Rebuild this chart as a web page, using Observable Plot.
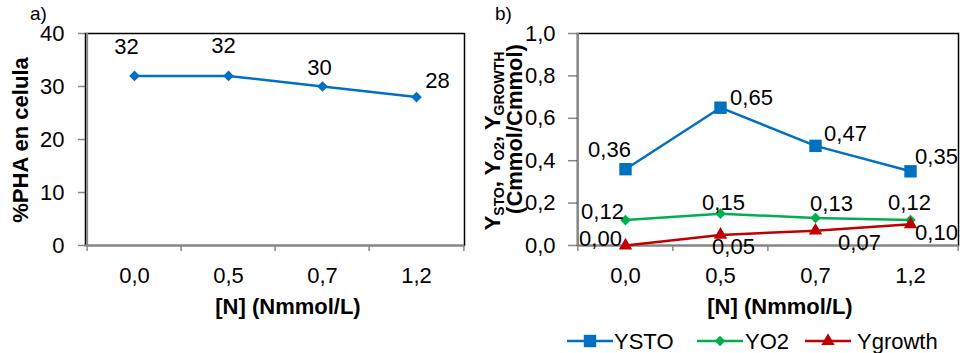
<!DOCTYPE html>
<html><head><meta charset="utf-8">
<script src="https://cdn.jsdelivr.net/npm/d3@7"></script>
<script src="https://cdn.jsdelivr.net/npm/@observablehq/plot@0.6"></script>
<style>
body{margin:0;background:#fff;}
#chart{position:relative;width:962px;height:353px;overflow:hidden;font-family:"Liberation Sans",Arial,sans-serif;background:#fff;}
#chart svg{position:absolute;top:0;}
#chart g[aria-label^="x-axis"] text,#chart g[aria-label^="y-axis"] text{font-size:22px;font-family:"Liberation Sans",Arial,sans-serif;fill:#000;}
</style></head><body><div id="chart"></div>
<script>
// ---- data ----
const categories = ["0,0", "0,5", "0,7", "1,2"];
const phaValues = [32, 32, 30, 28];
const phaTicks = [0, 10, 20, 30, 40];
const ystoValues = [0.36, 0.65, 0.47, 0.35];
const yo2Values = [0.12, 0.15, 0.13, 0.12];
const ygrowthValues = [0.00, 0.05, 0.07, 0.10];
const yieldTicks = [0, 0.2, 0.4, 0.6, 0.8, 1.0];
const seriesNames = ["YSTO", "YO2", "Ygrowth"];

// ---- styles (label offsets, colours, symbols) ----
const gray = "#878787";
const styleA = {color: "#0070C0", symbol: "diamond2", r: 4.8, offsets: [[-8,-29],[-5,-30],[-3,-19],[21,-16]]};
const stylesB = [
  {color: "#0070C0", symbol: "square", r: 7, offsets: [[-16,-19],[31,-10],[30,-12],[26,-14]]},
  {color: "#00B050", symbol: "diamond2", r: 4.8, offsets: [[-23,-8],[3,-11],[16,-14],[-1,-17]]},
  {color: "#C00000", symbol: "triangle", r: 5, offsets: [[-25,-7],[13,12],[44,12],[26,9]]}
];

function seriesMarks(values, st, fmt) {
  const rows = categories.map((c, i) => ({cat: c, v: values[i], i}));
  const marks = [
    Plot.line(rows, {x: "cat", y: "v", stroke: st.color, strokeWidth: 2.5}),
    Plot.dot(rows, {x: "cat", y: "v", fill: st.color, symbol: st.symbol, r: st.r})
  ];
  rows.forEach((d, i) => {
    marks.push(Plot.text([d], {x: "cat", y: "v", text: (e) => fmt(e.v), dx: st.offsets[i][0], dy: st.offsets[i][1],
      fontSize: 22, fill: "#000", fontFamily: "Liberation Sans, Arial, sans-serif"}));
  });
  return marks;
}

function panel({width, marginLeft, marginRight, yDomain, yTicks, yFormat, tickSize, tickPadding, series}) {
  const height = 353, marginTop = 33, marginBottom = 108;
  const step = (width - marginLeft - marginRight) / categories.length;
  const marks = [
    Plot.frame({stroke: "#000", strokeWidth: 1.5}),
    Plot.ruleY([0], {stroke: gray, strokeWidth: 2}),
    Plot.ruleX([categories[0]], {dx: -step / 2, stroke: gray, strokeWidth: 2}),
    Plot.ruleX(categories, {y1: 0, y2: 0, dx: -step / 2, insetBottom: -6, stroke: gray, strokeWidth: 1.5}),
    Plot.ruleX([categories[categories.length - 1]], {y1: 0, y2: 0, dx: step / 2, insetBottom: -6, stroke: gray, strokeWidth: 1.5}),
    ...series
  ];
  return Plot.plot({
    width, height, marginLeft, marginRight, marginTop, marginBottom,
    style: {fontFamily: "Liberation Sans, Arial, sans-serif", fontSize: "22px", color: "#000", background: "transparent", overflow: "visible"},
    x: {type: "point", domain: categories, padding: 0.5, tickSize: 0, tickPadding: 22, label: null},
    y: {domain: yDomain, ticks: yTicks, tickFormat: yFormat, tickSize, tickPadding, label: null},
    marks
  });
}

const chart = document.getElementById("chart");

const plotA = panel({
  width: 480, marginLeft: 85, marginRight: 16, yDomain: [0, 40], yTicks: phaTicks,
  yFormat: (d) => String(d), tickSize: 7, tickPadding: 14,
  series: seriesMarks(phaValues, styleA, (v) => String(v))
});
plotA.style.left = "0px";
chart.appendChild(plotA);

const fmt2 = (v) => v.toFixed(2).replace(".", ",");
const plotB = panel({
  width: 482, marginLeft: 97, marginRight: 4, yDomain: [0, 1], yTicks: yieldTicks,
  yFormat: (d) => d.toFixed(1).replace(".", ","), tickSize: 9, tickPadding: 13,
  series: [ystoValues, yo2Values, ygrowthValues].flatMap((vals, k) => seriesMarks(vals, stylesB[k], fmt2))
});
plotB.style.left = "480px";
chart.appendChild(plotB);

// gray tick marks on y axes, explicit axis font
[plotA, plotB].forEach((p) => {
  d3.select(p).selectAll('g[aria-label^="y-axis"] line, g[aria-label^="y-axis"] path').attr("stroke", gray).attr("stroke-width", 1.5);
  d3.select(p).selectAll('g[aria-label^="y-axis"] text, g[aria-label^="x-axis"] text').style("font-size", "22px");
});

function addText(sel, {x, y, transform, anchor = "start", size = 22, bold = false, text}) {
  const t = sel.append("text").attr("text-anchor", anchor).style("font-size", size + "px").attr("fill", "#000")
    .style("font-family", "Liberation Sans, Arial, sans-serif");
  if (transform) t.attr("transform", transform); else t.attr("x", x).attr("y", y);
  if (bold) t.attr("font-weight", "bold");
  if (text != null) t.text(text);
  return t;
}

// titles
const sA = d3.select(plotA);
addText(sA, {x: 30, y: 20, size: 19, text: "a)"});
addText(sA, {x: 288, y: 314, anchor: "middle", bold: true, text: "[N] (Nmmol/L)"});
addText(sA, {transform: "translate(28,140) rotate(-90)", anchor: "middle", bold: true, text: "%PHA en celula"});

const sB = d3.select(plotB);
addText(sB, {x: 15, y: 20, size: 19, text: "b)"});
addText(sB, {x: 300, y: 314, anchor: "middle", bold: true, text: "[N] (Nmmol/L)"});
const t1 = addText(sB, {transform: "translate(20,141) rotate(-90)", anchor: "middle", bold: true});
const parts = [["Y", false], ["STO", true], [", Y", false], ["O2", true], [", Y", false], ["GROWTH", true]];
let shifted = false;
parts.forEach(([txt, sub]) => {
  const ts = t1.append("tspan").text(txt);
  if (sub) { ts.style("font-size", "14px"); if (!shifted) { ts.attr("dy", 4); shifted = true; } }
  else if (shifted) { ts.attr("dy", -4); shifted = false; }
});
addText(sB, {transform: "translate(42,129) rotate(-90)", anchor: "middle", bold: true, text: "(Cmmol/Cmmol)"});

// legend
const legendItems = [{x: 87, tx: 134}, {x: 217, tx: 265}, {x: 325, tx: 377}];
seriesNames.forEach((name, k) => {
  const st = stylesB[k], it = legendItems[k];
  const g = sB.append("g");
  g.append("line").attr("x1", it.x).attr("x2", it.x + 46).attr("y1", 341).attr("y2", 341).attr("stroke", st.color).attr("stroke-width", 2.5);
  const sym = {square: d3.symbolSquare, diamond2: d3.symbolDiamond2, triangle: d3.symbolTriangle}[st.symbol];
  g.append("path").attr("d", d3.symbol(sym, Math.PI * st.r * st.r)()).attr("transform", `translate(${it.x + 23},341)`).attr("fill", st.color);
  addText(g, {x: it.tx, y: 349, text: name});
});
</script></body></html>
